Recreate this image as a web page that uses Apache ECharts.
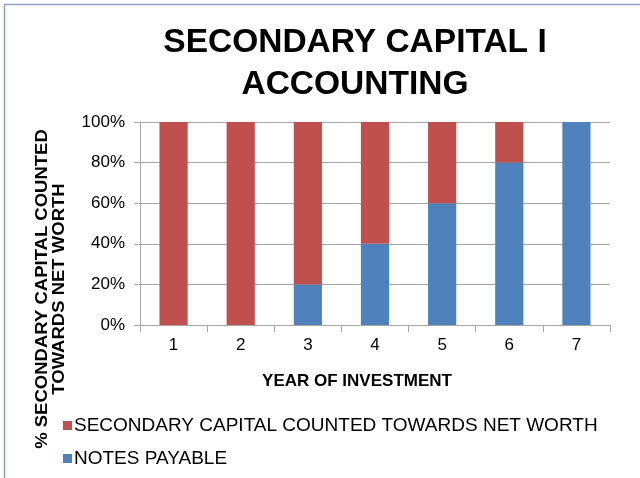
<!DOCTYPE html>
<html>
<head>
<meta charset="utf-8">
<script src="https://cdn.jsdelivr.net/npm/echarts@6/dist/echarts.min.js"></script>
<style>
  html, body { margin: 0; padding: 0; background: #fff; }
  #chart { width: 640px; height: 478px; }
</style>
</head>
<body>
<div id="chart"></div>
<script>
const years = ['1', '2', '3', '4', '5', '6', '7'];
const secondaryCapital = [100, 100, 80, 60, 40, 20, 0];
const notesPayable = [0, 0, 20, 40, 60, 80, 100];
const yTicks = [0, 20, 40, 60, 80, 100];

const chart = echarts.init(document.getElementById('chart'));

const font = '"Liberation Sans", Arial, sans-serif';

const option = {
  animation: false,
  textStyle: { fontFamily: font },
  title: {
    text: 'SECONDARY CAPITAL I\nACCOUNTING',
    left: 350,
    top: 17,
    textAlign: 'center',
    textStyle: {
      fontFamily: font,
      fontWeight: 'bold',
      fontSize: 33.5,
      lineHeight: 42,
      color: '#000'
    }
  },
  legend: {
    orient: 'vertical',
    left: 58,
    top: 410,
    itemWidth: 9,
    itemHeight: 9,
    itemGap: 12,
    icon: 'rect',
    textStyle: { fontFamily: font, fontSize: 19, lineHeight: 21, color: '#000', padding: [0, 0, 0, -3] },
    data: ['SECONDARY CAPITAL COUNTED TOWARDS NET WORTH', 'NOTES PAYABLE']
  },
  grid: { left: 140, right: 30, top: 122, bottom: 153 },
  xAxis: {
    type: 'category',
    data: years,
    name: 'YEAR OF INVESTMENT',
    nameLocation: 'middle',
    nameGap: 48,
    nameTextStyle: {
      fontFamily: font,
      fontWeight: 'bold',
      fontSize: 17,
      color: '#000',
      padding: [0, 36, 0, 0]
    },
    axisLine: { lineStyle: { color: '#a6a6a6' } },
    axisTick: { show: true, alignWithLabel: false, length: 7, lineStyle: { color: '#a6a6a6' } },
    axisLabel: { fontSize: 17, color: '#000', margin: 12 }
  },
  yAxis: {
    type: 'value',
    min: 0,
    max: 100,
    interval: 20,
    axisLine: { show: true, lineStyle: { color: '#a6a6a6' } },
    axisTick: { show: true, length: 6, lineStyle: { color: '#a6a6a6' } },
    axisLabel: {
      fontSize: 17,
      color: '#000',
      margin: 15,
      formatter: v => (yTicks.indexOf(v) >= 0 ? v + '%' : '')
    },
    splitLine: { lineStyle: { color: '#a6a6a6' } }
  },
  graphic: [
    {
      type: 'rect',
      shape: { x: 4.5, y: 4.5, width: 700, height: 600 },
      style: { fill: 'none', stroke: '#8ea2c4', lineWidth: 1.5 },
      silent: true
    },
    {
      // rotated y axis title, two lines
      type: 'text',
      x: 51,
      y: 289,
      rotation: Math.PI / 2,
      scaleY: 0.85,
      style: {
        text: '% SECONDARY CAPITAL COUNTED\nTOWARDS NET WORTH',
        font: 'bold 18.5px ' + font,
        fill: '#000',
        align: 'center',
        verticalAlign: 'middle',
        lineHeight: 20
      }
    }
  ],
  series: [
    {
      name: 'NOTES PAYABLE',
      type: 'bar',
      stack: 'total',
      barWidth: '42%',
      itemStyle: { color: '#4f81bd' },
      data: notesPayable
    },
    {
      name: 'SECONDARY CAPITAL COUNTED TOWARDS NET WORTH',
      type: 'bar',
      stack: 'total',
      barWidth: '42%',
      itemStyle: { color: '#c0504d' },
      data: secondaryCapital
    }
  ]
};

chart.setOption(option);
</script>
</body>
</html>
